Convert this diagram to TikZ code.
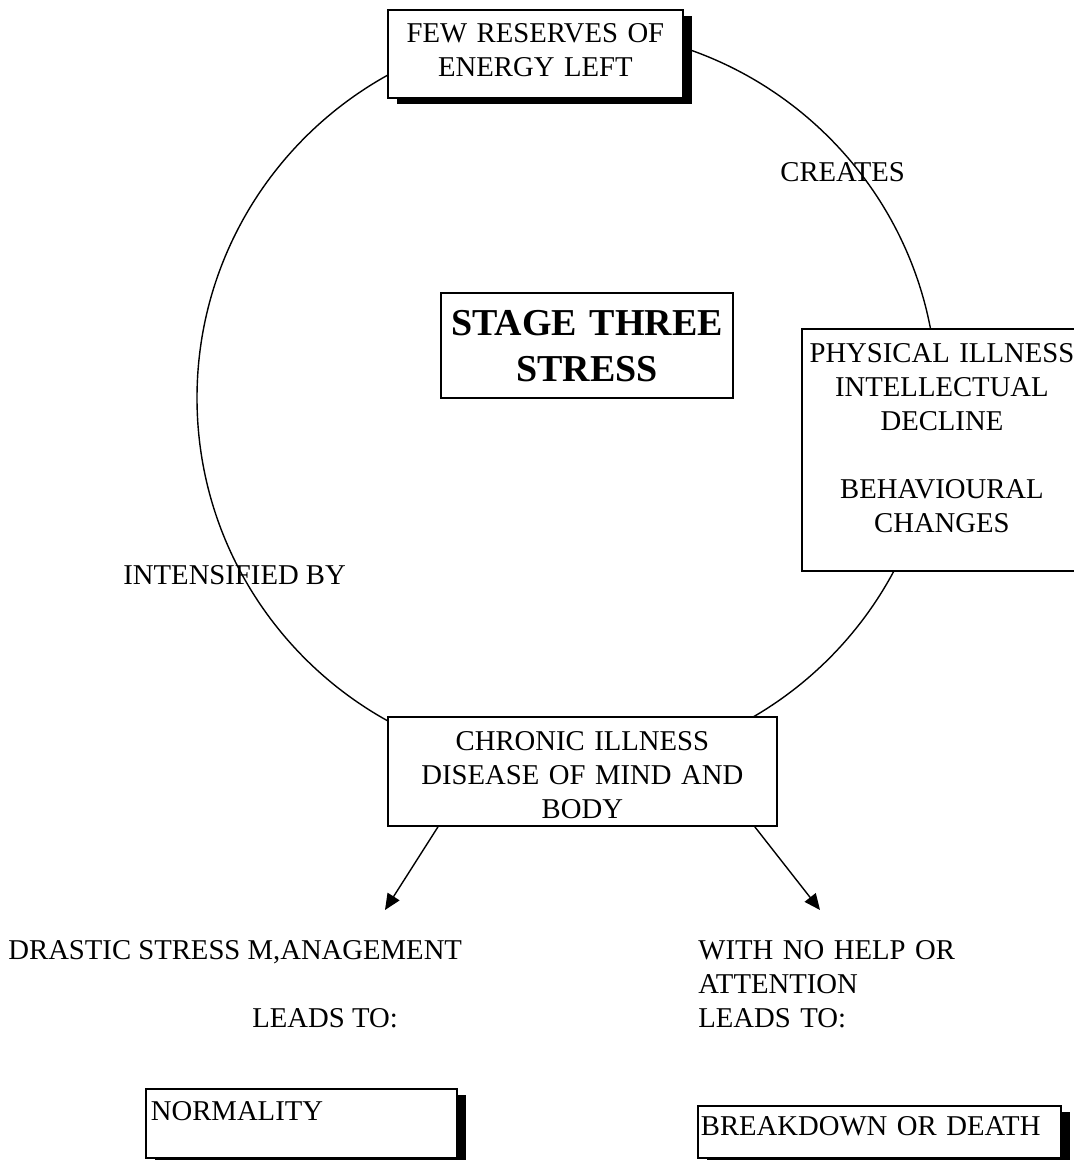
\documentclass[tikz,border=0pt]{standalone}
\usepackage{fontspec}
\setmainfont{Liberation Serif}
\usetikzlibrary{arrows.meta, shadows, shapes.geometric, positioning}
\tikzset{
  box/.style={rectangle, draw, line width=0.9pt, fill=white, inner xsep=0, inner ysep=0, align=center, anchor=north west},
  shadowbox/.style={box, drop shadow={shadow xshift=4.5pt, shadow yshift=-3pt, fill=black, opacity=1}},
  caption/.style={anchor=base west, inner sep=0},
  link/.style={-{Triangle[length=8pt, width=7pt]}, line width=0.7pt},
}
\begin{document}
\begin{tikzpicture}[x=0.5pt, y=-0.5pt, font=\fontsize{14.35pt}{17pt}\selectfont]
\useasboundingbox (0,0) rectangle (1074,1160);
\clip (0,0) rectangle (1074,1160);
%the cycle
\node[ellipse, draw, line width=0.7pt, minimum width=370pt, minimum height=369pt, inner sep=0] (ring) at (567,398) {};
%boxes on the cycle
\node[shadowbox, text width=147.5pt, text height=16.25pt, text depth=27.75pt] (energy) at (387,9) {FEW RESERVES OF\\ENERGY LEFT};
\node[box, text width=146pt, text height=21.25pt, text depth=31.25pt, font=\fontsize{19pt}{23pt}\selectfont\bfseries] (stage) at (440,292) {STAGE THREE\\STRESS};
\node[box, text width=140pt, text height=16.75pt, text depth=104.25pt] (physical) at (801,328) {PHYSICAL ILLNESS\\INTELLECTUAL\\DECLINE\\[17pt]BEHAVIOURAL\\CHANGES};
\node[box, text width=194.5pt, text height=16.75pt, text depth=37.75pt] (chronic) at (387,716) {CHRONIC ILLNESS\\DISEASE OF MIND AND\\BODY};
%labels on the cycle
\node[caption] (creates) at (780,181.5) {CREATES};
\node[caption] (intensified) at (123,584.5) {INTENSIFIED BY};
%two outcomes
\node[caption] (drastic) at (8,959.5) {DRASTIC STRESS M,ANAGEMENT};
\node[caption] (leadsleft) at (252,1027.5) {LEADS TO:};
\node[caption, text width=170pt, align=left] (nohelp) at (698,959.5) {WITH NO HELP OR\\ATTENTION\\LEADS TO:};
\node[shadowbox, align=left, inner xsep=2.5pt, text width=150.5pt, text height=16pt, text depth=18.5pt] (normality) at (145,1088) {NORMALITY};
\node[shadowbox, align=left, inner xsep=1.5pt, text width=178.5pt, text height=15pt, text depth=11pt] (breakdown) at (697,1105) {BREAKDOWN OR DEATH};
%arrows
\coordinate (tipleft) at (385,910);
\coordinate (tipright) at (820,910);
\draw[link] ([shift={(51,0)}]chronic.south west) -- (tipleft);
\draw[link] ([shift={(-23,0)}]chronic.south east) -- (tipright);
\end{tikzpicture}
\end{document}
